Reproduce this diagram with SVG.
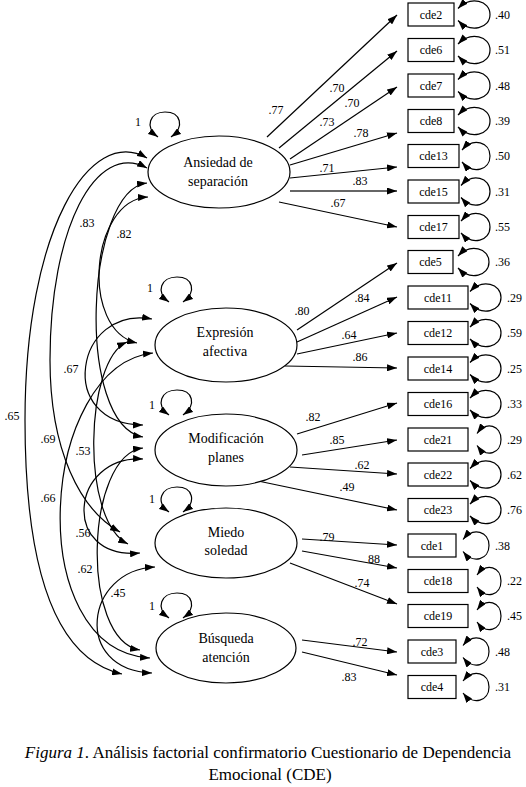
<svg xmlns="http://www.w3.org/2000/svg" width="526" height="787" viewBox="0 0 526 787">
<style>
text{font-family:"Liberation Serif","Times New Roman",serif;fill:#000}
.lt{font-size:14px;text-anchor:middle}
.bx{font-size:12px;text-anchor:middle}
.n{font-size:12px}
.nm{font-size:12px;text-anchor:middle}
.cap{font-size:17px;text-anchor:middle}
ellipse,rect{fill:#fff;stroke:#000;stroke-width:1.2}
.c path,.c line{fill:none;stroke:#000;stroke-width:1.2}
.c .ld{marker-end:url(#ah)}
.c .dbl{marker-start:url(#ah);marker-end:url(#ah)}
</style>
<defs>
<marker id="ah" viewBox="0 0 10 7" refX="10" refY="3.5" markerWidth="10" markerHeight="7" markerUnits="userSpaceOnUse" orient="auto-start-reverse"><path d="M0,0 L10,3.5 L0,7 z" fill="#000"/></marker>
</defs>

<g id="connectors" class="c">
<!-- correlations -->
<path class="dbl" d="M147,158 C90,125 25,230 25,420 C25,580 60,660 122,674"/>
<path class="dbl" d="M147,168 C95,140 50,230 50,360 C50,450 80,510 120,532"/>
<path class="dbl" d="M147,183 C85,190 75,425 143,437"/>
<path class="dbl" d="M148,197 C90,200 80,330 137,343"/>
<path class="dbl" d="M152,319 C75,305 55,425 143,425"/>
<path class="dbl" d="M127,342 C85,360 80,520 128,544"/>
<path class="dbl" d="M153,353 C40,365 20,650 150,658"/>
<path class="dbl" d="M143,459 C70,455 60,560 140,553"/>
<path class="dbl" d="M143,448 C85,455 80,640 140,650"/>
<path class="dbl" d="M155,567 C85,570 72,670 152,673"/>
<!-- latent variances -->
<path class="dbl" d="M158,137 C144,127 150,112 165,112 C181,112 185,127 171,137"/>
<path class="dbl" d="M169,302 C155,292 161,277 177,277 C193,277 197,292 183,302"/>
<path class="dbl" d="M169,415 C155,405 161,390 177,390 C193,390 197,405 183,415"/>
<path class="dbl" d="M169,512 C155,502 161,487 177,487 C193,487 197,502 183,512"/>
<path class="dbl" d="M169,618 C155,608 161,593 177,593 C193,593 197,608 183,618"/>
<!-- loadings -->
<line class="ld" x1="267" y1="137" x2="397" y2="15"/>
<line class="ld" x1="279" y1="148" x2="397" y2="51"/>
<line class="ld" x1="290" y1="159" x2="397" y2="87"/>
<line class="ld" x1="290" y1="165" x2="397" y2="133"/>
<line class="ld" x1="290" y1="178" x2="397" y2="167"/>
<line class="ld" x1="290" y1="191" x2="397" y2="191" style="stroke:#333;stroke-width:1.7"/>
<line class="ld" x1="279" y1="202" x2="397" y2="227"/>
<line class="ld" x1="297" y1="330" x2="397" y2="263"/>
<line class="ld" x1="297" y1="342" x2="397" y2="297"/>
<line class="ld" x1="297" y1="354" x2="397" y2="333"/>
<line class="ld" x1="285" y1="366" x2="397" y2="368"/>
<line class="ld" x1="297" y1="434" x2="397" y2="403"/>
<line class="ld" x1="302" y1="455" x2="397" y2="440"/>
<line class="ld" x1="290" y1="467" x2="397" y2="474"/>
<line class="ld" x1="258" y1="481" x2="397" y2="510"/>
<line class="ld" x1="302" y1="539" x2="397" y2="545"/>
<line class="ld" x1="302" y1="551" x2="397" y2="568"/>
<line class="ld" x1="290" y1="563" x2="397" y2="604"/>
<line class="ld" x1="302" y1="640" x2="397" y2="652"/>
<line class="ld" x1="302" y1="652" x2="397" y2="675"/>
<!-- residual variances -->
<path class="dbl" d="M458,8.5 C470.8,-4.5 490,0.5 490,14.5 C490,28.5 470.8,33.5 458,20.5"/>
<path class="dbl" d="M458,44 C470.8,31 490,36 490,50 C490,64 470.8,69 458,56"/>
<path class="dbl" d="M458,79.5 C470.8,66.5 490,71.5 490,85.5 C490,99.5 470.8,104.5 458,91.5"/>
<path class="dbl" d="M458,115 C470.8,102 490,107 490,121 C490,135 470.8,140 458,127"/>
<path class="dbl" d="M462,150 C473.2,137 490,142 490,156 C490,170 473.2,175 462,162"/>
<path class="dbl" d="M461,185.5 C472.6,172.5 490,177.5 490,191.5 C490,205.5 472.6,210.5 461,197.5"/>
<path class="dbl" d="M461,221 C472.6,208 490,213 490,227 C490,241 472.6,246 461,233"/>
<path class="dbl" d="M458,256 C470.4,243 489,248 489,262 C489,276 470.4,281 458,268"/>
<path class="dbl" d="M470,291.5 C482.4,278.5 501,283.5 501,297.5 C501,311.5 482.4,316.5 470,303.5"/>
<path class="dbl" d="M470,327 C482.4,314 501,319 501,333 C501,347 482.4,352 470,339"/>
<path class="dbl" d="M470,362.5 C482.4,349.5 501,354.5 501,368.5 C501,382.5 482.4,387.5 470,374.5"/>
<path class="dbl" d="M470,398 C482.4,385 501,390 501,404 C501,418 482.4,423 470,410"/>
<path class="dbl" d="M477,433.5 C486.6,420.5 501,425.5 501,439.5 C501,453.5 486.6,458.5 477,445.5"/>
<path class="dbl" d="M470,468.5 C482.4,455.5 501,460.5 501,474.5 C501,488.5 482.4,493.5 470,480.5"/>
<path class="dbl" d="M470,504 C482.4,491 501,496 501,510 C501,524 482.4,529 470,516"/>
<path class="dbl" d="M463,539.5 C473.4,526.5 489,531.5 489,545.5 C489,559.5 473.4,564.5 463,551.5"/>
<path class="dbl" d="M477,575 C486.6,562 501,567 501,581 C501,595 486.6,600 477,587"/>
<path class="dbl" d="M477,610 C486.6,597 501,602 501,616 C501,630 486.6,635 477,622"/>
<path class="dbl" d="M463,645.5 C473.4,632.5 489,637.5 489,651.5 C489,665.5 473.4,670.5 463,657.5"/>
<path class="dbl" d="M463,681 C473.4,668 489,673 489,687 C489,701 473.4,706 463,693"/>
</g>

<g id="labels">
<text class="n" x="138" y="126" text-anchor="middle">1</text>
<text class="n" x="150" y="292" text-anchor="middle">1</text>
<text class="n" x="152" y="409" text-anchor="middle">1</text>
<text class="n" x="152" y="503" text-anchor="middle">1</text>
<text class="n" x="152" y="610" text-anchor="middle">1</text>
<text class="nm" x="87" y="227">.83</text>
<text class="nm" x="124" y="238">.82</text>
<text class="nm" x="71" y="373">.67</text>
<text class="nm" x="12" y="420">.65</text>
<text class="nm" x="48" y="443">.69</text>
<text class="nm" x="83" y="455">.53</text>
<text class="nm" x="48" y="502">.66</text>
<text class="nm" x="83" y="537">.56</text>
<text class="nm" x="85" y="573">.62</text>
<text class="nm" x="118" y="597">.45</text>
<text class="nm" x="276" y="114">.77</text>
<text class="nm" x="337" y="92">.70</text>
<text class="nm" x="352" y="107">.70</text>
<text class="nm" x="327" y="126">.73</text>
<text class="nm" x="361" y="137">.78</text>
<text class="nm" x="327" y="172">.71</text>
<text class="nm" x="360" y="185">.83</text>
<text class="nm" x="338" y="207">.67</text>
<text class="nm" x="302" y="315">.80</text>
<text class="nm" x="362" y="302">.84</text>
<text class="nm" x="349" y="339">.64</text>
<text class="nm" x="360" y="361">.86</text>
<text class="nm" x="313" y="421">.82</text>
<text class="nm" x="337" y="444">.85</text>
<text class="nm" x="362" y="469">.62</text>
<text class="nm" x="347" y="491">.49</text>
<text class="nm" x="327" y="541">.79</text>
<text class="nm" x="374" y="563">88</text>
<text class="nm" x="362" y="587">.74</text>
<text class="nm" x="360" y="646">.72</text>
<text class="nm" x="349" y="681">.83</text>
<text class="n" x="495" y="18.5">.40</text>
<text class="n" x="495" y="54">.51</text>
<text class="n" x="495" y="89.5">.48</text>
<text class="n" x="495" y="125">.39</text>
<text class="n" x="495" y="160">.50</text>
<text class="n" x="495" y="195.5">.31</text>
<text class="n" x="495" y="231">.55</text>
<text class="n" x="495" y="266">.36</text>
<text class="n" x="507" y="301.5">.29</text>
<text class="n" x="507" y="337">.59</text>
<text class="n" x="507" y="372.5">.25</text>
<text class="n" x="507" y="408">.33</text>
<text class="n" x="507" y="443.5">.29</text>
<text class="n" x="507" y="478.5">.62</text>
<text class="n" x="507" y="514">.76</text>
<text class="n" x="495" y="549.5">.38</text>
<text class="n" x="507" y="585">.22</text>
<text class="n" x="507" y="620">.45</text>
<text class="n" x="495" y="655.5">.48</text>
<text class="n" x="495" y="691">.31</text>
</g>

<g id="f-ansiedad"><ellipse cx="219" cy="172" rx="71" ry="36"/><text class="lt" x="218" y="167">Ansiedad de</text><text class="lt" x="218" y="186">separación</text></g>
<g id="f-expresion"><ellipse cx="226" cy="345" rx="71" ry="37"/><text class="lt" x="225" y="337">Expresión</text><text class="lt" x="225" y="356">afectiva</text></g>
<g id="f-modificacion"><ellipse cx="226" cy="450" rx="71" ry="36"/><text class="lt" x="226" y="443">Modificación</text><text class="lt" x="226" y="462">planes</text></g>
<g id="f-miedo"><ellipse cx="226" cy="543" rx="71" ry="35"/><text class="lt" x="226" y="537">Miedo</text><text class="lt" x="226" y="555">soledad</text></g>
<g id="f-busqueda"><ellipse cx="226" cy="648" rx="70" ry="35"/><text class="lt" x="226" y="643">Búsqueda</text><text class="lt" x="226" y="662">atención</text></g>

<g id="i-cde2"><rect x="408" y="3" width="46" height="23"/><text class="bx" x="431" y="18.5">cde2</text></g>
<g id="i-cde6"><rect x="408" y="38.5" width="46" height="23"/><text class="bx" x="431" y="54">cde6</text></g>
<g id="i-cde7"><rect x="408" y="74" width="46" height="23"/><text class="bx" x="431" y="89.5">cde7</text></g>
<g id="i-cde8"><rect x="408" y="109.5" width="46" height="23"/><text class="bx" x="431" y="125">cde8</text></g>
<g id="i-cde13"><rect x="408" y="144.5" width="51" height="23"/><text class="bx" x="433.5" y="160">cde13</text></g>
<g id="i-cde15"><rect x="408" y="180" width="51" height="23"/><text class="bx" x="433.5" y="195.5">cde15</text></g>
<g id="i-cde17"><rect x="408" y="215.5" width="51" height="23"/><text class="bx" x="433.5" y="231">cde17</text></g>
<g id="i-cde5"><rect x="408" y="250.5" width="45" height="23"/><text class="bx" x="430.5" y="266">cde5</text></g>
<g id="i-cde11"><rect x="408" y="286" width="60" height="23"/><text class="bx" x="438" y="301.5">cde11</text></g>
<g id="i-cde12"><rect x="408" y="321.5" width="60" height="23"/><text class="bx" x="438" y="337">cde12</text></g>
<g id="i-cde14"><rect x="408" y="357" width="60" height="23"/><text class="bx" x="438" y="372.5">cde14</text></g>
<g id="i-cde16"><rect x="408" y="392.5" width="60" height="23"/><text class="bx" x="438" y="408">cde16</text></g>
<g id="i-cde21"><rect x="408" y="428" width="60" height="23"/><text class="bx" x="438" y="443.5">cde21</text></g>
<g id="i-cde22"><rect x="408" y="463" width="60" height="23"/><text class="bx" x="438" y="478.5">cde22</text></g>
<g id="i-cde23"><rect x="408" y="498.5" width="60" height="23"/><text class="bx" x="438" y="514">cde23</text></g>
<g id="i-cde1"><rect x="408" y="534" width="48" height="23"/><text class="bx" x="432" y="549.5">cde1</text></g>
<g id="i-cde18"><rect x="408" y="569.5" width="60" height="23"/><text class="bx" x="438" y="585">cde18</text></g>
<g id="i-cde19"><rect x="408" y="604.5" width="60" height="23"/><text class="bx" x="438" y="620">cde19</text></g>
<g id="i-cde3"><rect x="408" y="640" width="48" height="23"/><text class="bx" x="432" y="655.5">cde3</text></g>
<g id="i-cde4"><rect x="408" y="675.5" width="48" height="23"/><text class="bx" x="432" y="691">cde4</text></g>

<g id="caption">
<text class="cap" x="268" y="758"><tspan font-style="italic">Figura 1</tspan>. Análisis factorial confirmatorio Cuestionario de Dependencia</text>
<text class="cap" x="270" y="780">Emocional (CDE)</text>
</g>
</svg>
